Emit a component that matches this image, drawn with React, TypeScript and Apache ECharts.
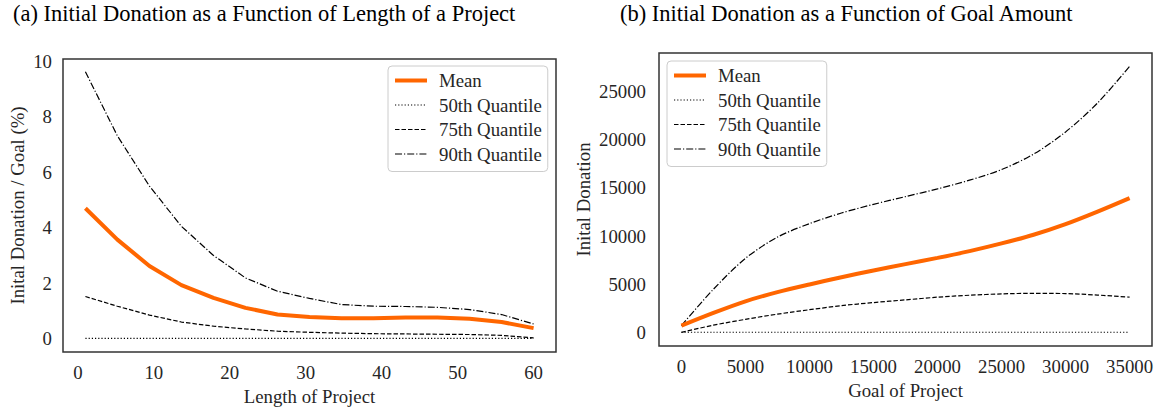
import React, { useEffect, useRef } from 'react';
import * as echarts from 'echarts';

// Panel (a): Length of project
const lengthX = [1, 5.21, 9.43, 13.64, 17.86, 22.07, 26.29, 30.5, 34.71, 38.93, 43.14, 47.36, 51.57, 55.79, 60];
const lengthMean = [4.7, 3.57, 2.62, 1.93, 1.47, 1.11, 0.87, 0.78, 0.74, 0.74, 0.76, 0.76, 0.72, 0.6, 0.38];
const lengthQ50 = [0.01, 0.01, 0.01, 0.01, 0.01, 0.01, 0.01, 0.01, 0.01, 0.01, 0.01, 0.01, 0.01, 0.01, 0.01];
const lengthQ75 = [1.52, 1.17, 0.85, 0.6, 0.45, 0.35, 0.27, 0.23, 0.2, 0.18, 0.17, 0.16, 0.15, 0.12, 0.03];
const lengthQ90 = [9.62, 7.31, 5.5, 4.05, 3.0, 2.19, 1.71, 1.45, 1.23, 1.17, 1.16, 1.13, 1.05, 0.87, 0.53];
const lengthTicksX = [0, 10, 20, 30, 40, 50, 60];
const lengthTicksY = [0, 2, 4, 6, 8, 10];

// Panel (b): Goal amount
const goalX = [0, 2500, 5000, 7500, 10000, 12500, 15000, 17500, 20000, 22500, 25000, 27500, 30000, 32500, 35000];
const goalMean = [730, 2050, 3250, 4200, 5000, 5750, 6450, 7100, 7750, 8450, 9250, 10150, 11250, 12550, 13950];
const goalQ50 = [40, 40, 40, 40, 40, 40, 40, 40, 40, 40, 40, 40, 40, 40, 40];
const goalQ75 = [30, 780, 1380, 1920, 2380, 2800, 3120, 3400, 3680, 3880, 4020, 4080, 4050, 3900, 3680];
const goalQ90 = [730, 4500, 7700, 9900, 11300, 12400, 13300, 14100, 14900, 15800, 16900, 18500, 20800, 23800, 27600];
const goalTicksX = [0, 5000, 10000, 15000, 20000, 25000, 30000, 35000];
const goalTicksY = [0, 5000, 10000, 15000, 20000, 25000];

const seriesNames = ['Mean', '50th Quantile', '75th Quantile', '90th Quantile'];
const titleA = '(a) Initial Donation as a Function of Length of a Project';
const titleB = '(b) Initial Donation as a Function of Goal Amount';

const FONT = "'Liberation Serif', 'Times New Roman', serif";
const TXT = '#262626';
const ORANGE = '#FF6600';

const lineStyles = [
  { color: ORANGE, width: 4, type: 'solid' as any },
  { color: '#000', width: 1.1, type: [1.2, 2] as any },
  { color: '#000', width: 1.2, type: [4.5, 2] as any },
  { color: '#000', width: 1.2, type: [7, 2, 1.2, 2] as any },
];

const pairs = (xs: number[], ys: number[]) => xs.map((x, i) => [x, ys[i]]);

function makeSeries(xs: number[], ys: number[][], idx: number, smooth: number | boolean) {
  return ys.map((y, i) => ({
    type: 'line',
    name: seriesNames[i],
    xAxisIndex: idx,
    yAxisIndex: idx,
    data: pairs(xs, y),
    symbol: 'none',
    smooth,
    z: i === 0 ? 3 : 2,
    itemStyle: { color: lineStyles[i].color },
    lineStyle: { color: lineStyles[i].color, width: lineStyles[i].width, type: lineStyles[i].type, cap: 'butt' },
  }));
}

function axisCommon() {
  return {
    axisLine: { show: false },
    axisTick: { show: false },
    splitLine: { show: false },
    nameTextStyle: { fontFamily: FONT, fontSize: 18.8, color: TXT },
  };
}

const plain = (v: number) => String(v);

function legendCfg(left: number, top: number) {
  return {
    data: seriesNames.map((n, i) => ({
      name: n,
      lineStyle: { color: lineStyles[i].color, width: lineStyles[i].width, type: lineStyles[i].type },
    })),
    orient: 'vertical',
    left,
    top,
    itemWidth: 32,
    itemHeight: 14,
    itemGap: 5.5,
    padding: [5, 6, 8, 5],
    backgroundColor: 'rgba(255,255,255,0.85)',
    borderColor: '#cccccc',
    borderWidth: 1,
    borderRadius: 4,
    selectedMode: false,
    itemStyle: { opacity: 0, borderWidth: 0 },
    textStyle: { fontFamily: FONT, fontSize: 18.8, color: TXT, padding: [0, 0, 0, 7] },
  };
}

export default function App() {
  const ref = useRef<HTMLDivElement>(null);
  useEffect(() => {
    if (!ref.current) return;
    const chart = echarts.init(ref.current, null, { renderer: 'svg' });
    const titleStyle = {
      fontFamily: FONT,
      fontSize: 22.5,
      fill: '#000',
    };
    const option: any = {
      animation: false,
      backgroundColor: '#ffffff',
      textStyle: { fontFamily: FONT },
      graphic: [
        { type: 'text', left: 13, top: 2, style: { text: titleA, ...titleStyle } },
        { type: 'text', left: 620, top: 2, style: { text: titleB, ...titleStyle } },
      ],
      legend: [legendCfg(388, 66), legendCfg(667, 61)],
      grid: [
        { left: 63, top: 59, width: 493, height: 293, show: true, borderColor: '#333', borderWidth: 1.5, backgroundColor: 'transparent' },
        { left: 659, top: 53, width: 493, height: 293, show: true, borderColor: '#333', borderWidth: 1.5, backgroundColor: 'transparent' },
      ],
      xAxis: [
        {
          ...axisCommon(),
          type: 'value',
          gridIndex: 0,
          min: -1.95,
          max: 62.95,
          name: 'Length of Project',
          nameLocation: 'middle',
          nameGap: 33,
          axisLabel: { customValues: lengthTicksX, formatter: plain, fontFamily: FONT, fontSize: 18.8, color: TXT, margin: 11 },
        },
        {
          ...axisCommon(),
          type: 'value',
          gridIndex: 1,
          min: -1750,
          max: 36750,
          name: 'Goal of Project',
          nameLocation: 'middle',
          nameGap: 33,
          axisLabel: { customValues: goalTicksX, formatter: plain, fontFamily: FONT, fontSize: 18.8, color: TXT, margin: 11 },
        },
      ],
      yAxis: [
        {
          ...axisCommon(),
          type: 'value',
          gridIndex: 0,
          min: -0.48,
          max: 10.08,
          name: 'Inital Donation / Goal (%)',
          nameLocation: 'middle',
          nameGap: 36,
          axisLabel: { customValues: lengthTicksY, formatter: plain, fontFamily: FONT, fontSize: 18.8, color: TXT, margin: 11 },
        },
        {
          ...axisCommon(),
          type: 'value',
          gridIndex: 1,
          min: -1380,
          max: 28980,
          name: 'Inital Donation',
          nameLocation: 'middle',
          nameGap: 66,
          axisLabel: { customValues: goalTicksY, formatter: plain, fontFamily: FONT, fontSize: 18.8, color: TXT, margin: 13 },
        },
      ],
      series: [
        ...makeSeries(lengthX, [lengthMean, lengthQ50, lengthQ75, lengthQ90], 0, false),
        ...makeSeries(goalX, [goalMean, goalQ50, goalQ75, goalQ90], 1, 0.3),
      ],
    };
    chart.setOption(option);
    return () => chart.dispose();
  }, []);
  return <div ref={ref} style={{ position: 'fixed', left: 0, top: 0, width: 1161, height: 411 }} />;
}
